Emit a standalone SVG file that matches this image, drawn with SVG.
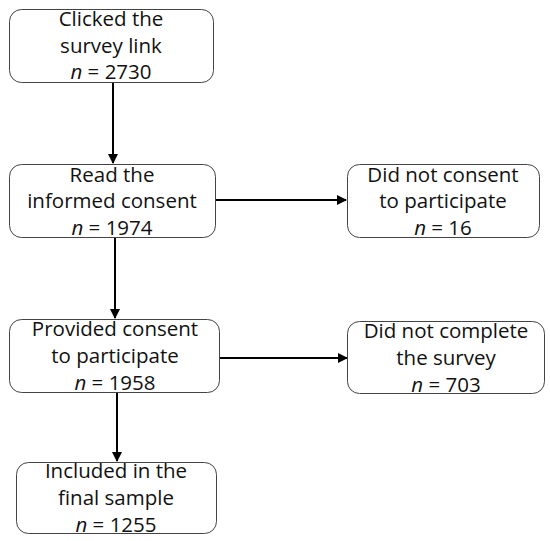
<svg xmlns="http://www.w3.org/2000/svg" width="550" height="541" viewBox="0 0 550 541">
<style>
.box{fill:#fff;stroke:#444;stroke-width:1}
.t{font-family:"Open Sans","Liberation Sans",sans-serif;font-size:20.5px;fill:#111;text-anchor:middle}
.c{stroke:#000;stroke-width:2;fill:none;marker-end:url(#ah)}
</style>
<defs>
<marker id="ah" viewBox="0 0 10 10" refX="9" refY="5" markerWidth="5" markerHeight="5" orient="auto" markerUnits="strokeWidth">
<path d="M0,0 L10,5 L0,10 z" fill="#000"/>
</marker>
</defs>
<rect width="550" height="541" fill="#fff"/>
<g id="connectors">
<line class="c" x1="113" y1="82" x2="113" y2="163"/>
<line class="c" x1="216" y1="200" x2="346" y2="200"/>
<line class="c" x1="115" y1="237" x2="115" y2="318"/>
<line class="c" x1="220" y1="358" x2="347" y2="358"/>
<line class="c" x1="117" y1="392" x2="117" y2="461"/>
</g>
<g id="n1">
<rect class="box" x="9.5" y="9.5" width="204" height="73" rx="12"/>
<text class="t" x="111" y="26">Clicked the</text>
<text class="t" x="111" y="53">survey link</text>
<text class="t" x="111" y="79"><tspan font-style="italic">n</tspan> = 2730</text>
</g>
<g id="n2">
<rect class="box" x="9.5" y="164.5" width="206" height="73" rx="12"/>
<text class="t" x="112" y="182">Read the</text>
<text class="t" x="112" y="208">informed consent</text>
<text class="t" x="112" y="235"><tspan font-style="italic">n</tspan> = 1974</text>
</g>
<g id="n3">
<rect class="box" x="347.5" y="164.5" width="192" height="73" rx="12"/>
<text class="t" x="443" y="182">Did not consent</text>
<text class="t" x="443" y="208">to participate</text>
<text class="t" x="443" y="235"><tspan font-style="italic">n</tspan> = 16</text>
</g>
<g id="n4">
<rect class="box" x="9.5" y="319.5" width="210" height="73" rx="12"/>
<text class="t" x="115" y="336">Provided consent</text>
<text class="t" x="115" y="363">to participate</text>
<text class="t" x="115" y="390"><tspan font-style="italic">n</tspan> = 1958</text>
</g>
<g id="n5">
<rect class="box" x="347.5" y="321.5" width="197" height="72" rx="12"/>
<text class="t" x="446" y="338">Did not complete</text>
<text class="t" x="446" y="365">the survey</text>
<text class="t" x="446" y="392"><tspan font-style="italic">n</tspan> = 703</text>
</g>
<g id="n6">
<rect class="box" x="16.5" y="462.5" width="200" height="71" rx="12"/>
<text class="t" x="116" y="478">Included in the</text>
<text class="t" x="116" y="505">final sample</text>
<text class="t" x="116" y="532"><tspan font-style="italic">n</tspan> = 1255</text>
</g>
</svg>
